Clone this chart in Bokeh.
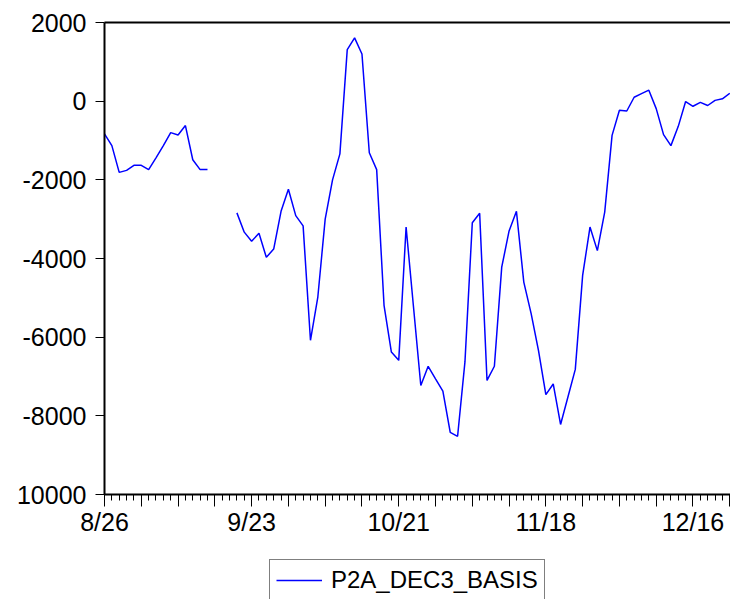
from bokeh.plotting import figure
from bokeh.layouts import column
from bokeh.models import FixedTicker, Legend, LegendItem, Range1d, LinearAxis
from bokeh.embed import file_html
from bokeh.resources import INLINE

NaN = float("nan")

series_name = "P2A_DEC3_BASIS"

# daily (business-day) values starting 8/26; NaN = missing observations
values = [
    -830, -1130, -1810, -1760, -1630, -1630, -1740, -1440, -1130, -800,
    -860, -620, -1490, -1740, -1740, NaN, NaN, NaN, -2840, -3330,
    -3560, -3360, -3970, -3760, -2800, -2240, -2910, -3170, -6080, -4980,
    -3000, -2000, -1340, 1310, 1610, 1200, -1310, -1740, -5190, -6380,
    -6590, -3200, -5220, -7230, -6740, -7060, -7370, -8420, -8520, -6630,
    -3090, -2850, -7100, -6740, -4220, -3300, -2800, -4600, -5400, -6340,
    -7460, -7190, -8220, -7520, -6820, -4430, -3200, -3800, -2820, -870,
    -230, -250, 100, 190, 280, -190, -850, -1130, -640, -10,
    -130, -30, -110, 20, 60, 200,
]

tick_positions = [0, 20, 40, 60, 80]
tick_labels = ["8/26", "9/23", "10/21", "11/18", "12/16"]
y_ticks = [-10000, -8000, -6000, -4000, -2000, 0, 2000]
y_tick_labels = ["10000", "-8000", "-6000", "-4000", "-2000", "0", "2000"]

x = list(range(len(values)))
FONT = "Liberation Sans"
AXIS_FS = "25px"
LINE_COLOR = "#0000FF"

p = figure(width=730, height=545, output_backend="svg", toolbar_location=None,
           x_range=Range1d(0, 85.1), y_range=Range1d(-10000, 2000),
           min_border_left=104, min_border_right=0, min_border_top=22,
           min_border_bottom=51)
p.outline_line_color = None
p.grid.visible = False
p.background_fill_color = "white"
p.border_fill_color = "white"

r = p.line(x, values, line_color=LINE_COLOR, line_width=1.5)

# x axis
xa = p.xaxis[0]
week_ticks = list(range(0, 86, 5))
xa.ticker = FixedTicker(ticks=week_ticks, minor_ticks=list(range(0, 86)))
overrides = {t: "" for t in week_ticks}
for t, lab in zip(tick_positions, tick_labels):
    overrides[t] = lab
xa.major_label_overrides = overrides
xa.axis_line_width = 2
xa.axis_line_color = "black"
xa.major_tick_in = 0
xa.major_tick_out = 12
xa.minor_tick_in = 0
xa.minor_tick_out = 6
xa.major_tick_line_width = 1
xa.minor_tick_line_width = 1
xa.major_label_standoff = 1
xa.major_label_text_font = FONT
xa.major_label_text_font_size = AXIS_FS
xa.major_label_text_color = "black"

# y axis
ya = p.yaxis[0]
ya.ticker = FixedTicker(ticks=y_ticks, minor_ticks=[])
ya.major_label_overrides = {t: l for t, l in zip(y_ticks, y_tick_labels)}
ya.axis_line_width = 2
ya.axis_line_color = "black"
ya.major_tick_in = 0
ya.major_tick_out = 9
ya.major_tick_line_width = 1
ya.major_label_standoff = 9
ya.major_label_text_font = FONT
ya.major_label_text_font_size = AXIS_FS
ya.major_label_text_color = "black"

# top frame line (no right border in the reference)
top_axis = LinearAxis(ticker=FixedTicker(ticks=[], minor_ticks=[]),
                      axis_line_width=2, axis_line_color="black",
                      major_tick_line_color=None, minor_tick_line_color=None,
                      major_label_text_font_size="0px")
p.add_layout(top_axis, "above")

# legend strip below the chart
pl = figure(width=730, height=54, output_backend="svg", toolbar_location=None,
            x_range=Range1d(0, 1), y_range=Range1d(0, 1),
            x_axis_type=None, y_axis_type=None,
            min_border_left=0, min_border_right=0, min_border_top=0,
            min_border_bottom=0)
pl.outline_line_color = None
pl.grid.visible = False
pl.background_fill_color = "white"
pl.border_fill_color = "white"
r_leg = pl.line(x, values, line_color=LINE_COLOR, line_width=1.5)

legend = Legend(items=[LegendItem(label=series_name, renderers=[r_leg])],
                location=(165, -2), margin=0, padding=6, spacing=0,
                glyph_width=46, glyph_height=20, label_standoff=9,
                label_height=20, label_text_font=FONT,
                label_text_font_size="24px", label_text_color="black",
                border_line_color="black", border_line_width=1,
                background_fill_color="white", background_fill_alpha=1.0)
pl.add_layout(legend)

layout = column(p, pl, spacing=0)
open("out.html", "w").write(file_html(layout, INLINE))
